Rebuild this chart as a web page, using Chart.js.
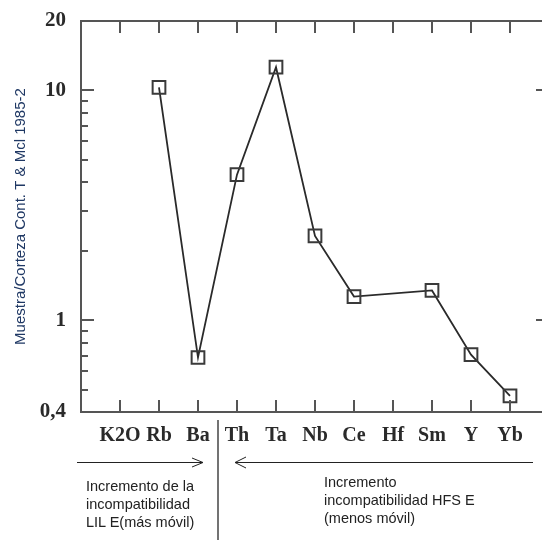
<!DOCTYPE html>
<html>
<head>
<meta charset="utf-8">
<script src="https://cdn.jsdelivr.net/npm/chart.js@4"></script>
<style>
  html, body { margin: 0; padding: 0; background: #fff; overflow: hidden; }
  #wrap { position: relative; width: 560px; height: 540px; overflow: hidden; }
  canvas { position: absolute; left: 0; top: 0; width: 560px; height: 540px; }
  .note { position: absolute; font-family: "Liberation Sans", Arial, sans-serif; font-size: 14.5px; line-height: 18px; color: #222; white-space: nowrap; }
</style>
</head>
<body>
<div id="wrap">
  <canvas id="c" width="560" height="540"></canvas>
  <div class="note" style="left:86px; top:477px;">Incremento de la<br>incompatibilidad<br>LIL E(más móvil)</div>
  <div class="note" style="left:324px; top:473px;">Incremento<br>incompatibilidad HFS E<br>(menos móvil)</div>
</div>
<script>
// ---- data ----
const categories = ["K2O", "Rb", "Ba", "Th", "Ta", "Nb", "Ce", "Hf", "Sm", "Y", "Yb"];
const values     = [null, 10.3, 0.69, 4.3, 12.6, 2.33, 1.27, null, 1.35, 0.71, 0.47];
const yTickValues = [0.4, 1, 10, 20];
const yTickLabels = ["0,4", "1", "10", "20"];
const yMinorTicks = [0.5, 0.6, 0.7, 0.8, 0.9, 2, 3, 4, 5, 6, 7, 8, 9];
const yMajorInner = [1, 10];
const yTitle = "Muestra/Corteza Cont. T & Mcl 1985-2";

const points = [];
categories.forEach((c, i) => { if (values[i] !== null) points.push({ x: i + 1, y: values[i] }); });

const framePlugin = {
  id: 'frame',
  afterDraw(chart) {
    const { ctx, chartArea: a, scales: { x, y } } = chart;
    ctx.save();
    ctx.strokeStyle = '#555';
    ctx.lineWidth = 2;
    ctx.strokeRect(a.left, a.top, a.right - a.left, a.bottom - a.top);
    ctx.beginPath();
    // category ticks top & bottom (inward)
    categories.forEach((c, i) => {
      const px = Math.round(x.getPixelForValue(i + 1));
      ctx.moveTo(px, a.bottom); ctx.lineTo(px, a.bottom - 12);
      ctx.moveTo(px, a.top); ctx.lineTo(px, a.top + 12);
    });
    // log ticks left & right (inward)
    yMajorInner.forEach(v => {
      const py = Math.round(y.getPixelForValue(v));
      ctx.moveTo(a.left, py); ctx.lineTo(a.left + 13, py);
      ctx.moveTo(a.right, py); ctx.lineTo(a.right - 13, py);
    });
    yMinorTicks.forEach(v => {
      const py = Math.round(y.getPixelForValue(v));
      ctx.moveTo(a.left, py); ctx.lineTo(a.left + 7, py);
      ctx.moveTo(a.right, py); ctx.lineTo(a.right - 7, py);
    });
    ctx.stroke();

    // separator and arrows below the axis
    ctx.strokeStyle = '#444';
    ctx.lineWidth = 1.5;
    ctx.beginPath();
    ctx.moveTo(218, 420); ctx.lineTo(218, 540);
    ctx.stroke();
    ctx.strokeStyle = '#222';
    ctx.lineWidth = 1;
    ctx.beginPath();
    ctx.moveTo(77, 462.5); ctx.lineTo(203, 462.5);
    ctx.moveTo(192, 458); ctx.lineTo(203, 462.5); ctx.lineTo(192, 467);
    ctx.moveTo(235, 462.5); ctx.lineTo(533, 462.5);
    ctx.moveTo(246, 457); ctx.lineTo(235, 462.5); ctx.lineTo(246, 468);
    ctx.stroke();
    ctx.restore();
  }
};

new Chart(document.getElementById('c'), {
  type: 'line',
  data: {
    datasets: [{
      data: points,
      borderColor: '#2a2a2a',
      borderWidth: 1.8,
      tension: 0,
      pointStyle: 'rect',
      pointRadius: 9,
      pointHoverRadius: 9,
      pointBorderWidth: 2,
      pointBorderColor: '#3a3a3a',
      pointBackgroundColor: 'rgba(0,0,0,0)',
      fill: false
    }]
  },
  options: {
    responsive: false,
    animation: false,
    events: [],
    layout: { padding: { left: 12, top: 21, right: 8, bottom: 0 } },
    plugins: { legend: { display: false }, tooltip: { enabled: false } },
    scales: {
      x: {
        type: 'linear',
        min: 0,
        max: 12,
        grid: { display: false, drawTicks: false },
        border: { display: false },
        afterBuildTicks: s => { s.ticks = categories.map((c, i) => ({ value: i + 1 })); },
        afterFit: s => { s.height = 128; s.paddingLeft = 0; s.paddingRight = 0; },
        ticks: {
          autoSkip: false,
          maxRotation: 0,
          padding: 12,
          color: '#2a2a2a',
          font: { family: '"Liberation Serif", "Times New Roman", serif', size: 20, weight: 'bold' },
          callback: v => categories[v - 1] ?? ''
        }
      },
      y: {
        type: 'logarithmic',
        min: 0.4,
        max: 20,
        grid: { display: false, drawTicks: false },
        border: { display: false },
        afterBuildTicks: s => { s.ticks = yTickValues.map(v => ({ value: v })); },
        afterFit: s => { s.width = 69; s.paddingTop = 0; s.paddingBottom = 0; },
        ticks: {
          padding: 15,
          color: '#2a2a2a',
          font: { family: '"Liberation Serif", "Times New Roman", serif', size: 21, weight: 'bold' },
          callback: (v, i) => yTickLabels[i]
        },
        title: {
          display: true,
          text: yTitle,
          color: '#1f3864',
          padding: { top: 0, bottom: 0 },
          font: { family: '"Liberation Sans", Arial, sans-serif', size: 15 }
        }
      }
    }
  },
  plugins: [framePlugin]
});
</script>
</body>
</html>
